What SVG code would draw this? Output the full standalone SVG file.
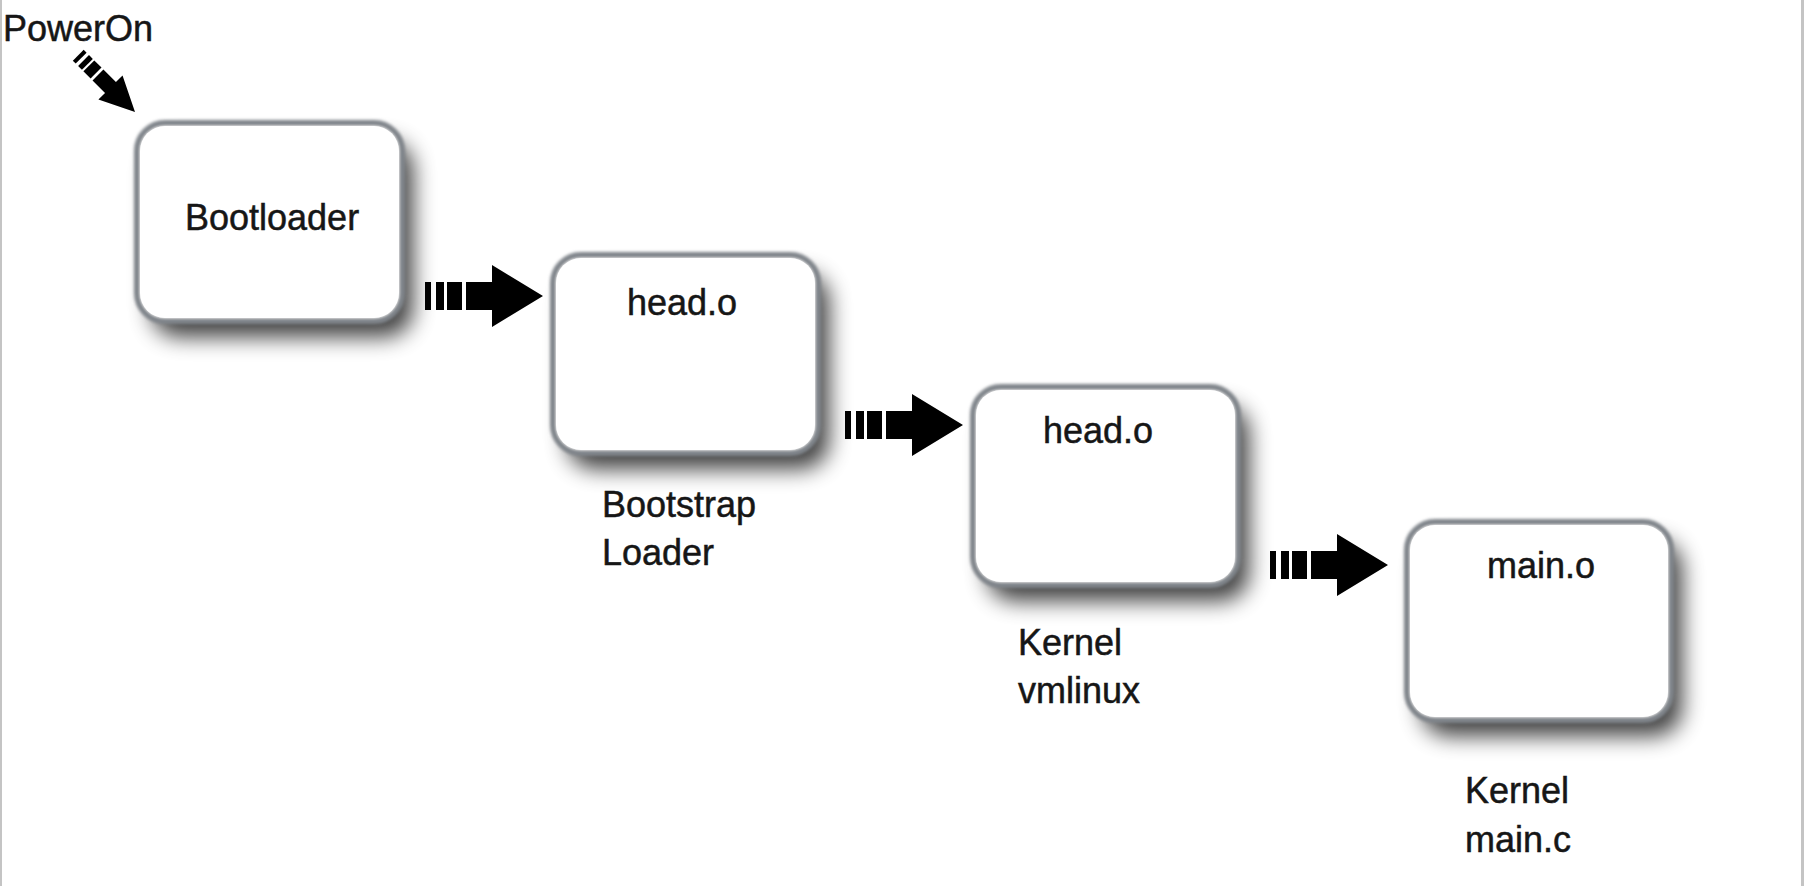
<svg xmlns="http://www.w3.org/2000/svg" xmlns:xlink="http://www.w3.org/1999/xlink" width="1804" height="886" viewBox="0 0 1804 886">
<style>
  .t { font-family: "Liberation Sans", Arial, sans-serif; font-size: 36px; fill: #161616; stroke: #161616; stroke-width: 0.5; }
  .shadow { fill: #000; opacity: 0.75; filter: url(#blurBig); }
  .edge { fill: #fff; stroke: #80858b; stroke-width: 6; filter: url(#blurSmall); }
  .face { fill: #fff; }
  .arrow { fill: #000; }
</style>
<defs>
  <filter id="blurBig" x="-25%" y="-25%" width="150%" height="150%">
    <feGaussianBlur stdDeviation="11"/>
  </filter>
  <filter id="blurSmall" x="-5%" y="-5%" width="110%" height="110%">
    <feGaussianBlur stdDeviation="1.6"/>
  </filter>
  <g id="arr">
    <rect x="-118" y="-14" width="6" height="28"/>
    <rect x="-107" y="-14" width="8" height="28"/>
    <rect x="-96" y="-14" width="15" height="28"/>
    <path d="M -77 -14 H -51 V -31 L 0 0 L -51 31 V 14 H -77 Z"/>
  </g>
</defs>
<rect x="0" y="0" width="1804" height="886" fill="#fff"/>
<rect x="0" y="0" width="2" height="886" fill="#c4c4c4"/>
<rect x="1801" y="0" width="3" height="886" fill="#c4c4c4"/>

<g id="n-bootloader">
  <rect class="shadow" x="151" y="141" width="262" height="196" rx="28"/>
  <rect class="edge" x="137" y="123" width="265" height="198" rx="28"/>
  <rect class="face" x="140" y="126" width="259" height="192" rx="25"/>
  <text class="t" x="185" y="230">Bootloader</text>
</g>
<g id="n-head1">
  <rect class="shadow" x="567" y="273" width="262" height="196" rx="28"/>
  <rect class="edge" x="553" y="255" width="265" height="198" rx="28"/>
  <rect class="face" x="556" y="258" width="259" height="192" rx="25"/>
  <text class="t" x="627" y="315">head.o</text>
  <text class="t" x="602" y="517">Bootstrap</text>
  <text class="t" x="602" y="565">Loader</text>
</g>
<g id="n-head2">
  <rect class="shadow" x="987" y="405" width="262" height="196" rx="28"/>
  <rect class="edge" x="973" y="387" width="265" height="198" rx="28"/>
  <rect class="face" x="976" y="390" width="259" height="192" rx="25"/>
  <text class="t" x="1043" y="443">head.o</text>
  <text class="t" x="1018" y="655">Kernel</text>
  <text class="t" x="1018" y="703">vmlinux</text>
</g>
<g id="n-main">
  <rect class="shadow" x="1421" y="540" width="261" height="196" rx="28"/>
  <rect class="edge" x="1407" y="522" width="264" height="198" rx="28"/>
  <rect class="face" x="1410" y="525" width="258" height="192" rx="25"/>
  <text class="t" x="1487" y="578">main.o</text>
  <text class="t" x="1465" y="803">Kernel</text>
  <text class="t" x="1465" y="852">main.c</text>
</g>
<g id="n-poweron">
  <text class="t" x="3" y="41">PowerOn</text>
</g>

<g id="connectors" class="arrow">
  <use xlink:href="#arr" href="#arr" transform="translate(135,112) rotate(45) scale(0.68,0.55)"/>
  <use xlink:href="#arr" href="#arr" transform="translate(543,296)"/>
  <use xlink:href="#arr" href="#arr" transform="translate(963,425)"/>
  <use xlink:href="#arr" href="#arr" transform="translate(1388,565)"/>
</g>
</svg>
